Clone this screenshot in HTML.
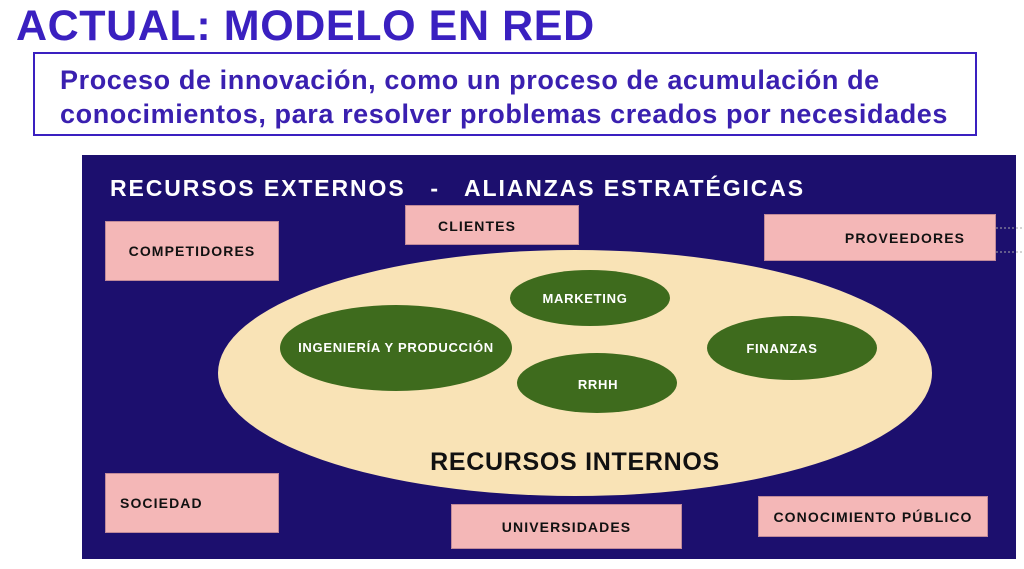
<!DOCTYPE html>
<html><head><meta charset="utf-8"><style>
body{margin:0;width:1024px;height:569px;background:#fff;position:relative;overflow:hidden;font-family:"Liberation Sans","DejaVu Sans",sans-serif}
.a{position:absolute}
.p{position:absolute;background:#f4b7b7;display:flex;align-items:center;justify-content:center;font-weight:bold;font-size:14px;color:#111;letter-spacing:1.1px;box-sizing:border-box;border:1px solid #c08a9a}
</style></head><body>
<div class="a" style="left:16px;top:2px;font-size:43px;font-weight:bold;color:#3a20c0;letter-spacing:0.6px">ACTUAL: MODELO EN RED</div>
<div class="a" style="left:33px;top:52px;width:944px;height:84px;border:2px solid #3a20c0;box-sizing:border-box"></div>
<div class="a" style="left:60px;top:63px;font-size:27px;font-weight:bold;color:#3a20b0;line-height:34px;letter-spacing:0.6px;white-space:nowrap">Proceso de innovación, como un proceso de acumulación de<br>conocimientos, para resolver problemas creados por necesidades</div>
<div class="a" style="left:82px;top:155px;width:934px;height:404px;background:#1c0f6e"></div>
<svg class="a" style="left:0;top:0" width="1024" height="569">
<ellipse cx="575" cy="373" rx="357" ry="123" fill="#f9e3b6"/>
<ellipse cx="590" cy="298" rx="80" ry="28" fill="#3e6b1d"/>
<ellipse cx="396" cy="348" rx="116" ry="43" fill="#3e6b1d"/>
<ellipse cx="597" cy="383" rx="80" ry="30" fill="#3e6b1d"/>
<ellipse cx="792" cy="348" rx="85" ry="32" fill="#3e6b1d"/>
<g fill="#fff" font-weight="bold" font-size="13" text-anchor="middle" font-family="Liberation Sans,sans-serif" letter-spacing="0.7">
<text x="585" y="303">MARKETING</text>
<text x="396" y="352">INGENIERÍA Y PRODUCCIÓN</text>
<text x="598" y="389">RRHH</text>
<text x="782" y="353">FINANZAS</text>
</g>
<text x="575" y="470" text-anchor="middle" font-weight="bold" font-size="25" fill="#111" font-family="Liberation Sans,sans-serif" letter-spacing="0.7">RECURSOS INTERNOS</text>
<text x="110" y="196" font-weight="bold" font-size="23" fill="#fff" font-family="Liberation Sans,sans-serif" letter-spacing="1.9" xml:space="preserve">RECURSOS EXTERNOS   -   ALIANZAS ESTRATÉGICAS</text>
<line x1="996" y1="228" x2="1024" y2="228" stroke="#aaa" stroke-dasharray="2 2"/>
<line x1="996" y1="252" x2="1024" y2="252" stroke="#aaa" stroke-dasharray="2 2"/>
</svg>
<div class="p" style="left:105px;top:221px;width:174px;height:60px">COMPETIDORES</div>
<div class="p" style="left:405px;top:205px;width:174px;height:40px;align-items:flex-start;padding-top:12px;justify-content:center;padding-right:30px">CLIENTES</div>
<div class="p" style="left:764px;top:214px;width:232px;height:47px;padding-left:50px">PROVEEDORES</div>
<div class="p" style="left:105px;top:473px;width:174px;height:60px;justify-content:flex-start;padding-left:14px">SOCIEDAD</div>
<div class="p" style="left:451px;top:504px;width:231px;height:45px">UNIVERSIDADES</div>
<div class="p" style="left:758px;top:496px;width:230px;height:41px">CONOCIMIENTO PÚBLICO</div>
</body></html>
